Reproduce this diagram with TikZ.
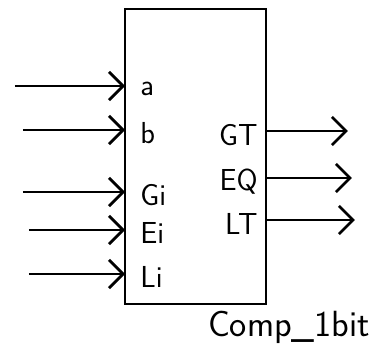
\documentclass[tikz,border=0pt]{standalone}
\usetikzlibrary{arrows.meta}
\begin{document}
\begin{tikzpicture}[x=0.02cm, y=-0.02cm, line width=1.6pt,
    wire/.style={-{Straight Barb[length=8pt,width=16pt,line width=1.6pt]}},
    lbl/.style={font=\sffamily\LARGE, inner sep=0pt}]
    \useasboundingbox (0,0) rectangle (387,362);
    \node[draw, inner sep=0pt, outer sep=0pt, minimum width=2.82cm, minimum height=5.9cm] (comp) at (195.5,156.5) {};
    % inputs
    \foreach \y/\x/\t in {86/15/a, 130/23/b, 192/23/Gi, 230/29/Ei, 274/29/Li} {
      \coordinate (in-\t) at (\x,\y);
      \draw[wire] (in-\t) -- (in-\t -| comp.west);
      \node[lbl, anchor=west] (l-\t) at (139,\y+3) {\t};
    }
    % outputs
    \foreach \y/\x/\t in {131/348/GT, 178/352/EQ, 220/355/LT} {
      \coordinate (out-\t) at (\x,\y);
      \draw[wire] (out-\t -| comp.east) -- (out-\t);
      \node[lbl, anchor=east] (l-\t) at (259,\y+4) {\t};
    }
    \node[font=\sffamily\huge, inner sep=0pt] (name) at (289,327) {Comp\_1bit};
\end{tikzpicture}
\end{document}
